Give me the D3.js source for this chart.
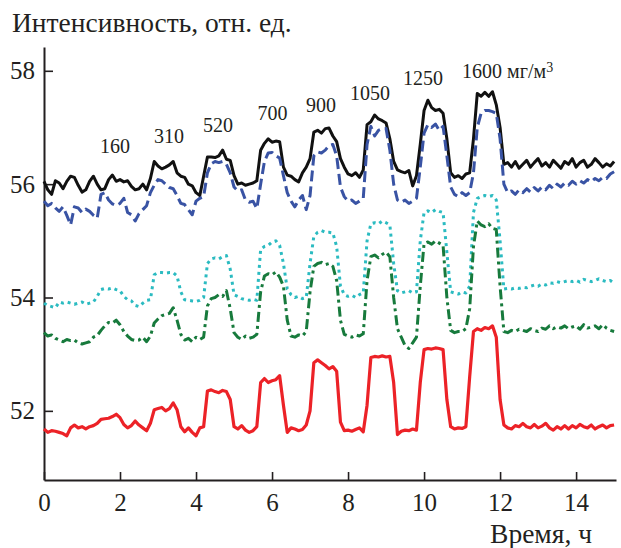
<!DOCTYPE html>
<html>
<head>
<meta charset="utf-8">
<script src="https://cdn.jsdelivr.net/npm/d3@7/dist/d3.min.js"></script>
<style>
  html, body { margin: 0; padding: 0; background: #fff; }
  svg { display: block; }
  text { font-family: "Liberation Serif", "DejaVu Serif", serif; fill: #231f20; }
</style>
</head>
<body>
<svg id="chart" width="621" height="548"></svg>
<script>
// Time grid, hours (one reading every 0.1 h)
const step = 0.1;

// Sensor intensity readings, arbitrary units
const blackSeries = [
  56.05,55.9,55.82,56.06,56.02,55.92,56.05,56.14,56.12,55.98,
  55.86,55.9,56.05,56.14,56.0,55.9,55.92,56.08,56.16,56.05,
  56.08,56.04,56.06,55.96,55.9,55.92,56.0,55.9,56.1,56.4,
  56.32,56.27,56.3,56.34,56.4,56.2,56.14,56.12,56.0,55.97,
  55.85,55.8,56.14,56.48,56.48,56.47,56.5,56.6,56.44,56.42,
  56.15,56.0,56.02,55.98,56.0,56.02,56.06,56.6,56.72,56.8,
  56.74,56.76,56.75,56.3,56.16,56.14,56.08,56.04,56.2,56.3,
  56.45,56.92,56.95,56.9,56.98,56.99,56.85,56.75,56.45,56.3,
  56.18,56.15,56.2,56.12,56.25,57.05,57.1,57.22,57.15,57.12,
  57.08,56.8,56.4,56.25,56.22,56.2,56.24,55.97,56.15,56.7,
  57.3,57.48,57.35,57.3,57.32,57.25,56.8,56.2,56.12,56.15,
  56.1,56.18,56.2,56.8,57.6,57.55,57.62,57.55,57.63,57.4,
  57.0,56.35,56.38,56.3,56.4,56.28,56.35,56.42,56.3,56.38,
  56.45,56.32,56.38,56.3,56.42,56.35,56.28,56.4,56.35,56.45,
  56.3,56.38,56.42,56.3,56.35,56.45,56.38,56.3,56.36,56.32,
  56.4
];
const blueSeries = [
  55.7,55.62,55.66,55.58,55.52,55.6,55.45,55.28,55.6,55.58,
  55.5,55.56,55.52,55.45,55.4,55.82,55.85,55.72,55.65,55.62,
  55.66,55.75,55.5,55.46,55.35,55.48,55.55,55.62,55.85,55.98,
  56.08,56.06,56.0,55.94,55.92,55.8,55.66,55.64,55.55,55.46,
  55.7,55.75,55.78,56.2,56.36,56.4,56.38,56.4,56.35,56.2,
  55.95,55.88,55.9,55.72,55.68,55.7,55.57,56.0,56.4,56.55,
  56.56,56.5,56.46,56.15,55.85,55.7,55.6,55.72,55.8,55.55,
  55.8,56.5,56.57,56.55,56.6,56.68,56.7,56.5,55.95,55.78,
  55.7,55.72,55.66,55.7,55.75,56.7,57.02,56.85,56.95,56.98,
  56.98,56.6,56.0,55.72,55.68,55.72,55.66,55.7,55.75,56.3,
  56.9,57.05,57.0,57.06,56.95,57.02,56.5,55.95,55.82,55.78,
  55.85,55.8,55.85,56.2,57.0,57.25,57.3,57.3,57.28,57.25,
  56.8,56.0,55.85,55.88,55.82,55.9,55.85,55.92,55.86,55.94,
  55.88,55.95,55.9,55.98,55.92,56.0,55.95,56.02,55.98,56.05,
  56.0,56.06,56.02,56.08,56.04,56.1,56.06,56.12,56.1,56.18,
  56.22
];
const cyanSeries = [
  53.9,53.86,53.84,53.82,53.92,53.9,53.92,53.9,53.88,53.9,
  53.92,53.88,53.9,53.92,54.02,54.14,54.16,54.15,54.17,54.14,
  54.12,54.02,53.96,53.94,53.86,53.84,53.9,53.95,53.96,54.4,
  54.44,54.44,54.43,54.44,54.44,54.38,54.1,53.96,53.95,53.94,
  53.93,53.95,54.0,54.6,54.68,54.7,54.68,54.72,54.74,54.5,
  54.05,54.02,53.98,53.96,53.95,53.97,53.95,54.85,54.9,54.92,
  54.98,55.0,54.92,54.6,54.15,54.05,54.0,54.02,53.98,54.0,
  54.6,55.08,55.15,55.18,55.15,55.15,55.14,54.9,54.2,54.05,
  54.02,54.04,54.0,54.05,54.08,55.0,55.3,55.32,55.3,55.35,
  55.32,55.28,54.6,54.12,54.08,54.1,54.12,54.08,54.1,55.0,
  55.5,55.53,55.5,55.55,55.52,55.5,54.8,54.1,54.08,54.06,
  54.1,54.08,54.2,55.5,55.75,55.78,55.8,55.78,55.8,55.72,
  55.0,54.15,54.16,54.15,54.17,54.16,54.18,54.17,54.2,54.22,
  54.2,54.24,54.22,54.26,54.25,54.28,54.26,54.28,54.3,54.28,
  54.3,54.27,54.32,54.3,54.28,54.3,54.33,54.3,54.28,54.3,
  54.25
];
const greenSeries = [
  53.38,53.32,53.34,53.28,53.25,53.22,53.26,53.24,53.25,53.2,
  53.18,53.2,53.22,53.3,53.33,53.42,53.5,53.56,53.55,53.6,
  53.52,53.4,53.32,53.26,53.24,53.25,53.3,53.22,53.32,53.55,
  53.62,53.68,53.7,53.72,53.82,53.6,53.35,53.25,53.28,53.22,
  53.3,53.26,53.3,53.85,53.98,54.0,54.05,54.02,54.12,53.8,
  53.38,53.3,53.26,53.32,53.28,53.3,53.35,54.1,54.38,54.42,
  54.4,54.45,54.36,54.2,53.6,53.32,53.3,53.34,53.32,53.4,
  54.1,54.55,54.6,54.62,54.58,54.6,54.55,54.3,53.6,53.35,
  53.32,53.3,53.34,53.32,53.36,54.3,54.72,54.75,54.7,54.76,
  54.8,54.72,54.0,53.45,53.3,53.15,53.1,53.2,53.3,54.2,
  54.95,54.98,54.94,55.0,54.96,54.92,54.0,53.42,53.38,53.4,
  53.4,53.45,53.8,54.9,55.35,55.28,55.25,55.3,55.22,55.2,
  54.2,53.4,53.38,53.42,53.4,53.44,53.42,53.4,53.45,53.42,
  53.4,53.46,53.44,53.5,53.45,53.48,53.46,53.5,53.45,53.48,
  53.5,53.44,53.52,53.46,53.48,53.5,53.45,53.52,53.46,53.42,
  53.4
];
const redSeries = [
  51.68,51.62,51.65,51.64,51.62,51.6,51.56,51.7,51.75,51.7,
  51.72,51.68,51.72,51.74,51.78,51.85,51.86,51.87,51.9,51.94,
  51.88,51.76,51.7,51.74,51.82,51.75,51.7,51.65,51.78,52.02,
  52.04,52.06,52.0,52.04,52.14,52.02,51.72,51.63,51.7,51.62,
  51.56,51.7,51.72,52.35,52.37,52.34,52.32,52.36,52.34,52.2,
  51.72,51.68,51.74,51.66,51.62,51.65,51.72,52.5,52.57,52.5,
  52.53,52.55,52.62,52.1,51.62,51.7,51.68,51.65,51.67,51.75,
  52.0,52.85,52.9,52.85,52.8,52.74,52.78,52.7,51.8,51.65,
  51.66,51.64,51.67,51.7,51.63,52.1,52.94,52.96,52.95,52.97,
  52.95,52.96,52.5,51.58,51.64,51.66,51.65,51.68,51.66,52.5,
  53.08,53.1,53.09,53.11,53.1,53.08,52.2,51.72,51.68,51.7,
  51.69,51.72,52.6,53.4,53.45,53.42,53.47,53.45,53.5,53.3,
  52.2,51.75,51.7,51.68,51.74,51.72,51.78,51.72,51.7,51.76,
  51.7,51.73,51.78,51.7,51.66,51.72,51.68,51.74,51.68,51.74,
  51.7,51.76,51.72,51.7,51.75,51.68,51.72,51.75,51.7,51.74,
  51.75
];

// Concentration labels above the pulses (mg/m³): anchor time and level
const doseLabels = ["160", "310", "520", "700", "900", "1050", "1250", "1600"];
const doseTimes  = [1.87, 3.29, 4.58, 6.01, 7.29, 8.58, 9.97, 11.0];
const doseLevels = [56.55, 56.73, 56.92, 57.13, 57.27, 57.48, 57.75, 57.87];

const xTicks = [0, 2, 4, 6, 8, 10, 12, 14];
const yTicks = [52, 54, 56, 58];

const svg = d3.select("#chart");

const x = d3.scaleLinear().domain([0, 15.05]).range([44, 616]);
const y = d3.scaleLinear().domain([50.78, 58.42]).range([480, 47]);

const axisColor = "#231f20";
const serifStack = '"Liberation Serif", "DejaVu Serif", serif';

// Axes
const xAxis = d3.axisBottom(x).tickValues(xTicks).tickSizeInner(-8).tickSizeOuter(0).tickPadding(13);
const yAxis = d3.axisLeft(y).tickValues(yTicks).tickSizeInner(-9).tickSizeOuter(0).tickPadding(9);

const gx = svg.append("g").attr("transform", `translate(0,${y.range()[0]})`).call(xAxis);
const gy = svg.append("g").attr("transform", `translate(${x.range()[0]},0)`).call(yAxis);

[gx, gy].forEach(g => {
  g.attr("font-family", serifStack);
  g.select(".domain").attr("stroke", axisColor).attr("stroke-width", 2);
  g.selectAll(".tick line").attr("stroke", axisColor).attr("stroke-width", 1.6);
  g.selectAll(".tick text")
    .attr("fill", axisColor)
    .style("font-family", serifStack)
    .style("font-size", "25px");
});

// Series lines
const line = d3.line()
  .x((d, i) => x(i * step))
  .y(d => y(d));

const series = [
  { values: blackSeries, color: "#111111", dash: null, width: 3 },
  { values: blueSeries,  color: "#3953a4", dash: "11,5", width: 3 },
  { values: cyanSeries,  color: "#2bbbc1", dash: "3,4", width: 3 },
  { values: greenSeries, color: "#177a3c", dash: "10,4,3,4", width: 3 },
  { values: redSeries,   color: "#ec2227", dash: null, width: 3.2 }
];

svg.append("g").selectAll("path")
  .data(series)
  .join("path")
  .attr("d", s => line(s.values))
  .attr("fill", "none")
  .attr("stroke", s => s.color)
  .attr("stroke-width", s => s.width)
  .attr("stroke-dasharray", s => s.dash)
  .attr("stroke-linejoin", "round")
  .attr("stroke-linecap", "butt");

// Concentration labels
const labels = svg.append("g").style("font-family", serifStack).style("font-size", "20px");
doseLabels.forEach((lab, i) => {
  const last = i === doseLabels.length - 1;
  const t = labels.append("text")
    .attr("x", x(doseTimes[i]))
    .attr("y", y(doseLevels[i]))
    .attr("text-anchor", last ? "start" : "middle");
  if (last) {
    t.append("tspan").text(lab + " мг/м");
    t.append("tspan").attr("dy", "-0.45em").style("font-size", "14px").text("3");
  } else {
    t.text(lab);
  }
});

// Axis titles
svg.append("text")
  .attr("x", 12).attr("y", 32)
  .style("font-family", serifStack)
  .style("font-size", "27.5px")
  .text("Интенсивность, отн. ед.");

svg.append("text")
  .attr("x", 592).attr("y", 543)
  .attr("text-anchor", "end")
  .style("font-family", serifStack)
  .style("font-size", "27.5px")
  .text("Время, ч");
</script>
</body>
</html>
